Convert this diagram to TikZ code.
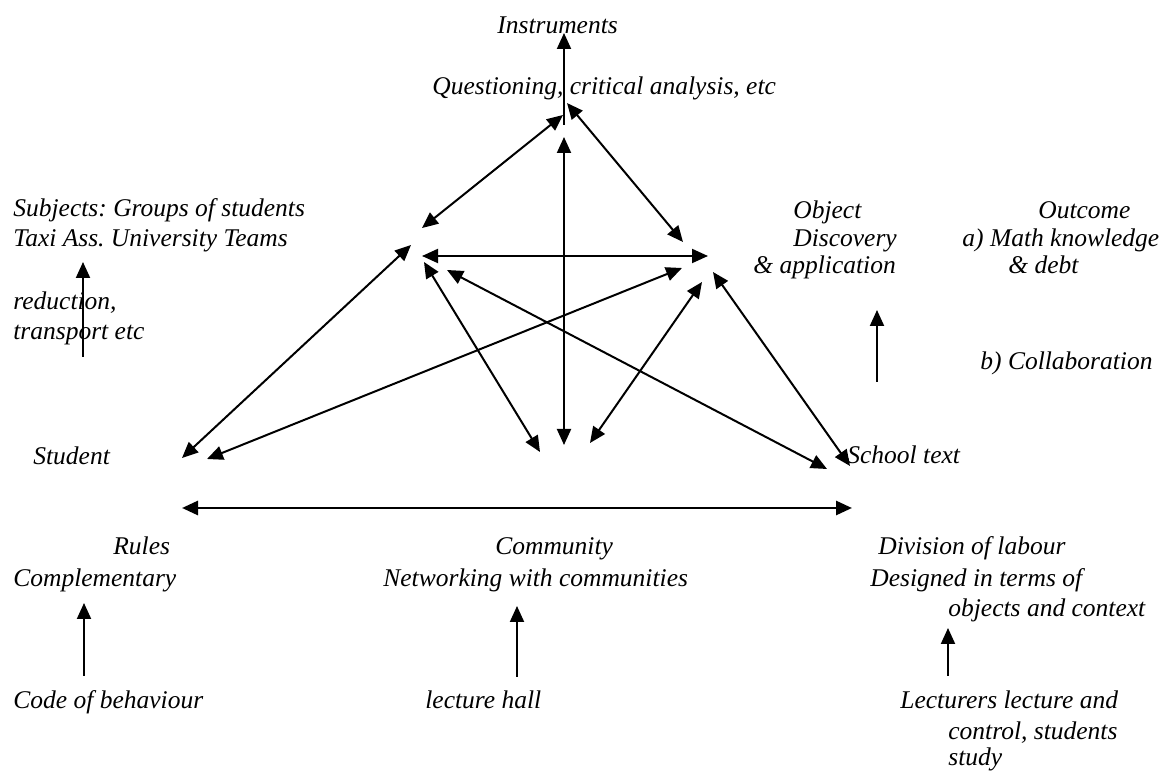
\documentclass[tikz,border=0pt]{standalone}
\usepackage{fontspec}
\setmainfont{Liberation Serif}
\usepackage{tikz}
\usetikzlibrary{arrows.meta}
\usetikzlibrary{positioning}
\frenchspacing
\tikzstyle{lbl}=[inner sep=0pt,anchor=base west,font=\itshape\fontsize{12.75pt}{15pt}\selectfont]
\tikzstyle{link} = [draw,line width=1pt,<->]
\tikzstyle{uplink} = [draw,line width=1pt,->]

\begin{document}
\begin{tikzpicture}[x=0.5pt,y=-0.5pt,>={Triangle[length=8pt,width=7pt]}]
    \useasboundingbox (0,0) rectangle (1168,774);

    % The texts of the activity system
    \foreach \pos/\name/\label in {{(497,34)/instr/Instruments}, {(432,95)/quest/{Questioning, critical analysis, etc}},
        {(13,217)/subj/{Subjects: Groups of students}}, {(13,247)/taxi/{Taxi Ass. University Teams}},
        {(13,310)/reduc/{reduction,}}, {(13,340)/transp/{transport etc}},
        {(793,219)/obj/Object}, {(793,247)/disc/Discovery}, {(753,274)/appl/{\& application}},
        {(1038,219)/outc/Outcome}, {(962,247)/mathk/{a) Math knowledge}}, {(1008,274)/debt/{\& debt}},
        {(980,370)/collab/{b) Collaboration}},
        {(33,465)/student/Student}, {(847,464)/school/{School text}},
        {(113,555)/rules/Rules}, {(13,587)/compl/Complementary}, {(13,709)/code/{Code of behaviour}},
        {(495,555)/comm/Community}, {(383,587)/netw/{Networking with communities}}, {(425,709)/hall/{lecture hall}},
        {(878,555)/divis/{Division of labour}}, {(870,587)/design/{Designed in terms of}}, {(948,617)/objctx/{objects and context}},
        {(900,709)/lect/{Lecturers lecture and}}, {(948,740)/ctrl/{control, students}}, {(948,766)/study/study}}
        \node[lbl] (\name) at \pos {\label};

    % End points of the arrows, grouped round the corners
    \foreach \pos/\name in {{(564,33)/I0}, {(564,125)/Q0}, {(563,115)/Q1}, {(567,103)/Q2}, {(564,137)/Q3},
        {(422,228)/S1}, {(422,256)/S2}, {(424,262)/S3}, {(411,245)/S4}, {(447,270)/S5},
        {(683,242)/O1}, {(708,256)/O2}, {(682,268)/O3}, {(702,282)/O4}, {(713,272)/O5},
        {(182,458)/St1}, {(207,459)/St2}, {(540,452)/C1}, {(564,445)/C2}, {(590,443)/C3},
        {(827,469)/T1}, {(850,466)/T2}, {(182,508)/B1}, {(852,508)/B2},
        {(83,357)/a0}, {(83,262)/a1}, {(877,382)/b0}, {(877,310)/b1},
        {(84,676)/r0}, {(84,603)/r1}, {(517,677)/c0}, {(517,606)/c1}, {(948,676)/d0}, {(948,628)/d1}}
        \path \pos coordinate (\name);

    % Connect the corners
    \foreach \source/\dest in {Q1/S1, Q2/O1, Q3/C2, S2/O2, S3/C1, S4/St1, O3/St2, S5/T1, O4/C3, O5/T2}
        \path[link] (\source) -- (\dest);
    \path[link, line width=1.4pt] (B1) -- (B2);

    % Single arrows
    \foreach \source/\dest in {Q0/I0, a0/a1, b0/b1, r0/r1, c0/c1, d0/d1}
        \path[uplink] (\source) -- (\dest);
\end{tikzpicture}
\end{document}
